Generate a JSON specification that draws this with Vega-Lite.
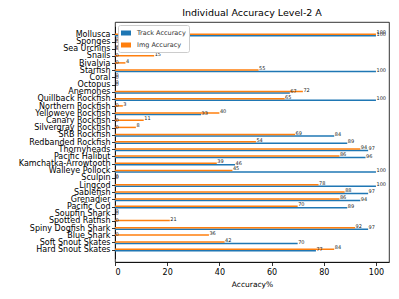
{
  "$schema": "https://vega.github.io/schema/vega-lite/v6.json",
  "autosize": {"type": "none"},
  "width": 274,
  "height": 240,
  "padding": {"left": 115, "top": 22, "right": 10, "bottom": 37},
  "background": "white",
  "title": {"text": "Individual Accuracy Level-2 A", "fontSize": 9.5, "font": "DejaVu Sans", "fontWeight": "normal", "color": "#000", "offset": 5, "anchor": "middle"},
  "config": {
    "view": {"stroke": "#000", "strokeWidth": 0.8},
    "font": "DejaVu Sans",
    "axis": {"grid": false, "domainColor": "#000", "tickColor": "#000", "labelColor": "#000", "titleColor": "#000", "domainWidth": 0.8, "tickWidth": 0.8, "tickSize": 3.5, "labelFont": "DejaVu Sans", "titleFont": "DejaVu Sans", "titleFontWeight": "normal"}
  },
  "data": {"values": [
    {"cat": "Mollusca", "series": "Track Accuracy", "v": 100}, {"cat": "Mollusca", "series": "Img Accuracy", "v": 100},
    {"cat": "Sponges", "series": "Track Accuracy", "v": 0}, {"cat": "Sponges", "series": "Img Accuracy", "v": 0},
    {"cat": "Sea Urchins", "series": "Track Accuracy", "v": 0}, {"cat": "Sea Urchins", "series": "Img Accuracy", "v": 0},
    {"cat": "Snails", "series": "Track Accuracy", "v": 0}, {"cat": "Snails", "series": "Img Accuracy", "v": 15},
    {"cat": "Bivalvia", "series": "Track Accuracy", "v": 0}, {"cat": "Bivalvia", "series": "Img Accuracy", "v": 4},
    {"cat": "Starfish", "series": "Track Accuracy", "v": 100}, {"cat": "Starfish", "series": "Img Accuracy", "v": 55},
    {"cat": "Coral", "series": "Track Accuracy", "v": 0}, {"cat": "Coral", "series": "Img Accuracy", "v": 0},
    {"cat": "Octopus", "series": "Track Accuracy", "v": 0}, {"cat": "Octopus", "series": "Img Accuracy", "v": 0},
    {"cat": "Anemones", "series": "Track Accuracy", "v": 67}, {"cat": "Anemones", "series": "Img Accuracy", "v": 72},
    {"cat": "Quillback Rockfish", "series": "Track Accuracy", "v": 100}, {"cat": "Quillback Rockfish", "series": "Img Accuracy", "v": 65},
    {"cat": "Northern Rockfish", "series": "Track Accuracy", "v": 0}, {"cat": "Northern Rockfish", "series": "Img Accuracy", "v": 3},
    {"cat": "Yelloweye Rockfish", "series": "Track Accuracy", "v": 33}, {"cat": "Yelloweye Rockfish", "series": "Img Accuracy", "v": 40},
    {"cat": "Canary Rockfish", "series": "Track Accuracy", "v": 0}, {"cat": "Canary Rockfish", "series": "Img Accuracy", "v": 11},
    {"cat": "Silvergray Rockfish", "series": "Track Accuracy", "v": 0}, {"cat": "Silvergray Rockfish", "series": "Img Accuracy", "v": 8},
    {"cat": "SRB Rockfish", "series": "Track Accuracy", "v": 84}, {"cat": "SRB Rockfish", "series": "Img Accuracy", "v": 69},
    {"cat": "Redbanded Rockfish", "series": "Track Accuracy", "v": 89}, {"cat": "Redbanded Rockfish", "series": "Img Accuracy", "v": 54},
    {"cat": "Thornyheads", "series": "Track Accuracy", "v": 97}, {"cat": "Thornyheads", "series": "Img Accuracy", "v": 94},
    {"cat": "Pacific Halibut", "series": "Track Accuracy", "v": 96}, {"cat": "Pacific Halibut", "series": "Img Accuracy", "v": 86},
    {"cat": "Kamchatka-Arrowtooth", "series": "Track Accuracy", "v": 46}, {"cat": "Kamchatka-Arrowtooth", "series": "Img Accuracy", "v": 39},
    {"cat": "Walleye Pollock", "series": "Track Accuracy", "v": 100}, {"cat": "Walleye Pollock", "series": "Img Accuracy", "v": 45},
    {"cat": "Sculpin", "series": "Track Accuracy", "v": 0}, {"cat": "Sculpin", "series": "Img Accuracy", "v": 0},
    {"cat": "Lingcod", "series": "Track Accuracy", "v": 100}, {"cat": "Lingcod", "series": "Img Accuracy", "v": 78},
    {"cat": "Sablefish", "series": "Track Accuracy", "v": 97}, {"cat": "Sablefish", "series": "Img Accuracy", "v": 88},
    {"cat": "Grenadier", "series": "Track Accuracy", "v": 94}, {"cat": "Grenadier", "series": "Img Accuracy", "v": 86},
    {"cat": "Pacific Cod", "series": "Track Accuracy", "v": 89}, {"cat": "Pacific Cod", "series": "Img Accuracy", "v": 70},
    {"cat": "Soupfin Shark", "series": "Track Accuracy", "v": 0}, {"cat": "Soupfin Shark", "series": "Img Accuracy", "v": 0},
    {"cat": "Spotted Ratfish", "series": "Track Accuracy", "v": 0}, {"cat": "Spotted Ratfish", "series": "Img Accuracy", "v": 21},
    {"cat": "Spiny Dogfish Shark", "series": "Track Accuracy", "v": 97}, {"cat": "Spiny Dogfish Shark", "series": "Img Accuracy", "v": 92},
    {"cat": "Blue Shark", "series": "Track Accuracy", "v": 0}, {"cat": "Blue Shark", "series": "Img Accuracy", "v": 36},
    {"cat": "Soft Snout Skates", "series": "Track Accuracy", "v": 70}, {"cat": "Soft Snout Skates", "series": "Img Accuracy", "v": 42},
    {"cat": "Hard Snout Skates", "series": "Track Accuracy", "v": 77}, {"cat": "Hard Snout Skates", "series": "Img Accuracy", "v": 84}
  ]},
  "encoding": {
    "y": {"field": "cat", "type": "nominal", "sort": null, "scale": {"paddingInner": 0.58, "paddingOuter": 1, "range": [4.3, 236.7]},
      "axis": {"title": null, "labelFontSize": 8, "labelPadding": 1.5}},
    "yOffset": {"field": "series", "type": "nominal", "sort": ["Img Accuracy", "Track Accuracy"]},
    "x": {"field": "v", "type": "quantitative", "scale": {"domain": [0, 105], "nice": false},
      "axis": {"values": [0, 20, 40, 60, 80, 100], "title": "Accuracy%", "labelFontSize": 8, "titleFontSize": 7.5, "labelPadding": 3, "titlePadding": 4}}
  },
  "layer": [
    {"mark": {"type": "bar", "cornerRadius": 0},
     "encoding": {"color": {"field": "series", "type": "nominal",
       "scale": {"domain": ["Track Accuracy", "Img Accuracy"], "range": ["#1f77b4", "#ff7f0e"]},
       "legend": {"title": null, "orient": "top-left", "offset": 3, "labelFontSize": 6.5, "labelColor": "#333", "symbolType": "M-1,-0.5H1V0.5H-1Z", "symbolSize": 100, "symbolStrokeWidth": 0, "fillColor": "white", "strokeColor": "#ccc", "cornerRadius": 2, "padding": 3, "rowPadding": 3, "labelOffset": 6}}}},
    {"mark": {"type": "text", "align": "left", "baseline": "middle", "dx": 0.5, "dy": -2, "fontSize": 5, "color": "#222"},
     "encoding": {"text": {"field": "v", "type": "quantitative"}}}
  ]
}
